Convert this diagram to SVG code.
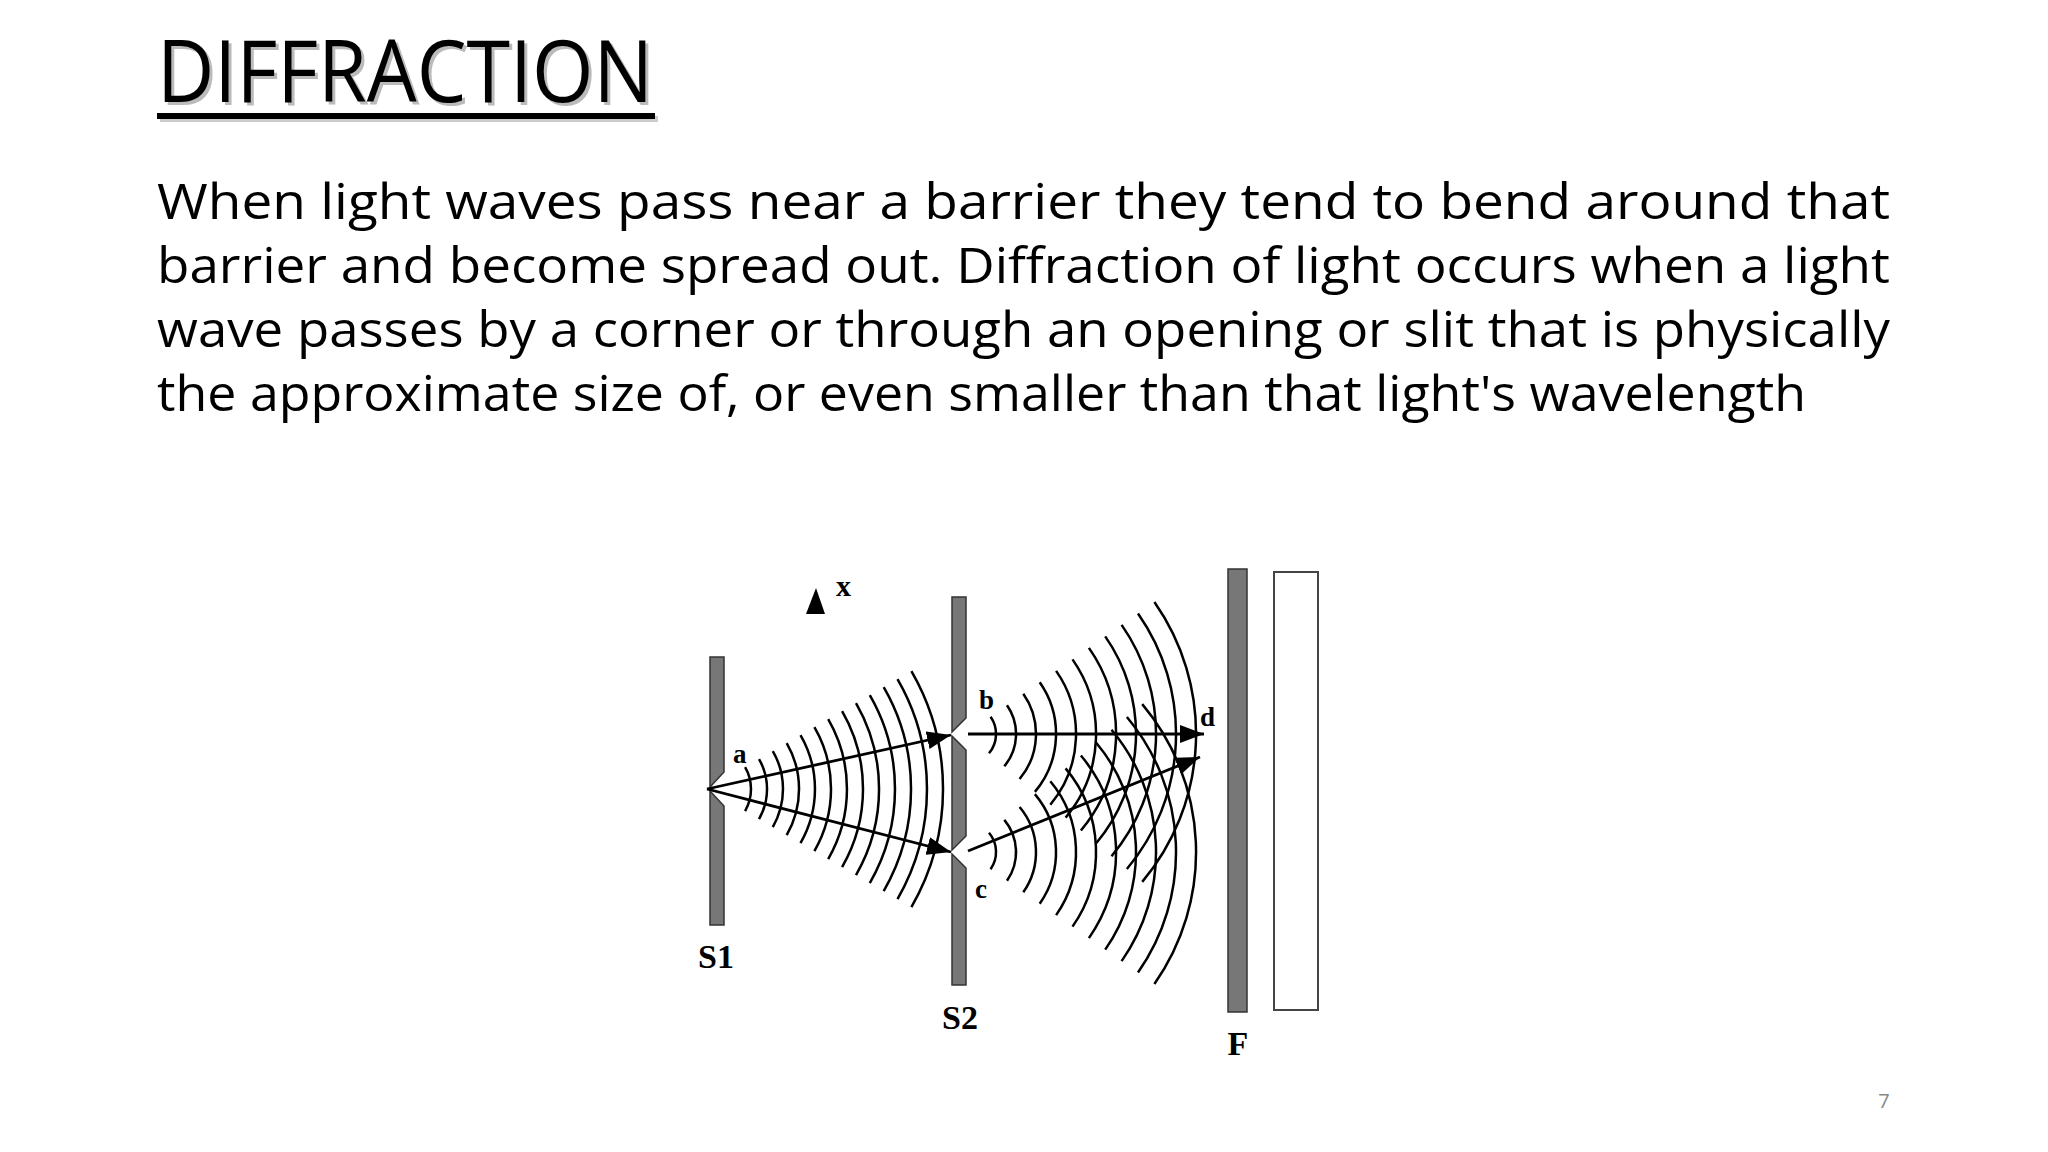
<svg xmlns="http://www.w3.org/2000/svg" width="2048" height="1152" viewBox="0 0 2048 1152">
<style>
.bar{fill:#777;stroke:#333;stroke-width:1.5}
.w{fill:none;stroke:#000;stroke-width:2.5}
.ar{stroke:#000;stroke-width:2.8;fill:none}
.lb{font-family:"Liberation Serif",serif;font-weight:bold;fill:#000}
.body{font-family:"Open Sans","Liberation Sans",sans-serif;font-size:50px;fill:#000}
</style>
<defs>
<marker id="tip" markerUnits="userSpaceOnUse" markerWidth="26" markerHeight="18" refX="24" refY="9" orient="auto"><path d="M0,0 L24,9 L0,18 Z" fill="#000"/></marker>
</defs>
<rect width="2048" height="1152" fill="#fff"/>
<g id="title">
<text x="160" y="105" font-family="Open Sans,sans-serif" font-size="86" fill="#bbb" textLength="496" lengthAdjust="spacingAndGlyphs">DIFFRACTION</text>
<rect x="160" y="116" width="498" height="6" fill="#ccc"/>
<text x="157" y="102" font-family="Open Sans,sans-serif" font-size="86" fill="#000" textLength="496" lengthAdjust="spacingAndGlyphs">DIFFRACTION</text>
<rect x="157" y="113" width="498" height="6" fill="#000"/>
</g>
<g id="body" class="body">
<text x="157" y="219" textLength="1733" lengthAdjust="spacingAndGlyphs">When light waves pass near a barrier they tend to bend around that</text>
<text x="157" y="283" textLength="1733" lengthAdjust="spacingAndGlyphs">barrier and become spread out. Diffraction of light occurs when a light</text>
<text x="157" y="347" textLength="1733" lengthAdjust="spacingAndGlyphs">wave passes by a corner or through an opening or slit that is physically</text>
<text x="157" y="411" textLength="1649" lengthAdjust="spacingAndGlyphs">the approximate size of, or even smaller than that light's wavelength</text>
</g>
<g id="S1"><path class="bar" d="M710,657 H724 V772 L710,787 Z M710,791 L724,806 V925 H710 Z"/><text class="lb" x="716" y="968" font-size="34" text-anchor="middle">S1</text></g>
<g id="S2"><path class="bar" d="M952,597 H966 V718 L952,732 Z M952,736 L966,750 V836 L952,850 Z M952,854 L966,868 V985 H952 Z"/><text class="lb" x="960" y="1029" font-size="34" text-anchor="middle">S2</text></g>
<g id="F"><rect class="bar" x="1228" y="569" width="19" height="443"/><text class="lb" x="1238" y="1055" font-size="34" text-anchor="middle">F</text></g>
<g id="screen"><rect x="1274" y="572" width="44" height="438" fill="#fff" stroke="#444" stroke-width="2"/></g>
<g id="axis"><path d="M806,614 L816,588 L825,614 Z" fill="#000"/><text class="lb" x="836" y="596" font-size="30">x</text></g>
<g id="labels" class="lb" font-size="27">
<text x="733" y="763">a</text><text x="979" y="709">b</text><text x="975" y="898">c</text><text x="1200" y="726">d</text>
</g>
<g id="waves-a" class="w">
<path d="M745.1,767 A44 44 0 0 1 745.1,811"/><path d="M759,759 A60 60 0 0 1 759,819"/><path d="M772.8,751 A76 76 0 0 1 772.8,827"/><path d="M786.7,743 A92 92 0 0 1 786.7,835"/><path d="M800.5,735 A108 108 0 0 1 800.5,843"/><path d="M814.4,727 A124 124 0 0 1 814.4,851"/><path d="M828.2,719 A140 140 0 0 1 828.2,859"/><path d="M842.1,711 A156 156 0 0 1 842.1,867"/><path d="M856,703 A172 172 0 0 1 856,875"/><path d="M869.8,695 A188 188 0 0 1 869.8,883"/><path d="M883.7,687 A204 204 0 0 1 883.7,891"/><path d="M897.5,679 A220 220 0 0 1 897.5,899"/><path d="M911.4,671 A236 236 0 0 1 911.4,907"/>
</g>
<g id="waves-b" class="w">
<path d="M990.6,716.8 A30 30 0 0 1 989,753.3"/><path d="M1007,705.3 A50 50 0 0 1 1004.3,766.2"/><path d="M1023.3,693.8 A70 70 0 0 1 1019.6,779"/><path d="M1039.7,682.3 A90 90 0 0 1 1034.9,791.9"/><path d="M1056.1,670.9 A110 110 0 0 1 1050.3,804.7"/><path d="M1072.5,659.4 A130 130 0 0 1 1065.6,817.6"/><path d="M1088.9,647.9 A150 150 0 0 1 1080.9,830.5"/><path d="M1105.2,636.4 A170 170 0 0 1 1096.2,843.3"/><path d="M1121.6,624.9 A190 190 0 0 1 1111.5,856.2"/><path d="M1138,613.5 A210 210 0 0 1 1126.9,869"/><path d="M1154.4,602 A230 230 0 0 1 1142.2,881.9"/>
</g>
<g id="waves-c" class="w">
<path d="M989,832.7 A30 30 0 0 1 990.6,869.2"/><path d="M1004.3,819.9 A50 50 0 0 1 1007,880.7"/><path d="M1019.6,807 A70 70 0 0 1 1023.3,892.2"/><path d="M1034.9,794.1 A90 90 0 0 1 1039.7,903.7"/><path d="M1050.3,781.3 A110 110 0 0 1 1056.1,915.1"/><path d="M1065.6,768.4 A130 130 0 0 1 1072.5,926.6"/><path d="M1080.9,755.5 A150 150 0 0 1 1088.9,938.1"/><path d="M1096.2,742.7 A170 170 0 0 1 1105.2,949.6"/><path d="M1111.5,729.8 A190 190 0 0 1 1121.6,961.1"/><path d="M1126.9,717 A210 210 0 0 1 1138,972.5"/><path d="M1142.2,704.1 A230 230 0 0 1 1154.4,984"/>
</g>
<g id="connectors" class="ar">
<line x1="707" y1="789" x2="951" y2="735" marker-end="url(#tip)"/>
<line x1="707" y1="789" x2="951" y2="852" marker-end="url(#tip)"/>
<line x1="968" y1="734" x2="1204" y2="734" marker-end="url(#tip)"/>
<line x1="968" y1="851" x2="1200" y2="757" marker-end="url(#tip)"/>
</g>
<text x="1884" y="1108" font-family="Open Sans,sans-serif" font-size="20" fill="#888" text-anchor="middle">7</text>
</svg>
